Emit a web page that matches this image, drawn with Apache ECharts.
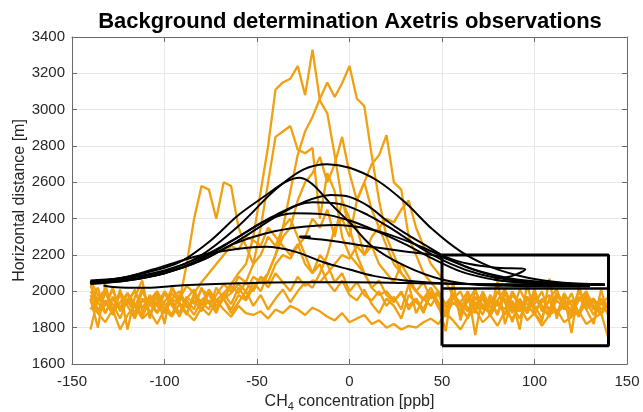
<!DOCTYPE html>
<html>
<head>
<meta charset="utf-8">
<script src="https://cdn.jsdelivr.net/npm/echarts@6/dist/echarts.min.js"></script>
<style>html,body{margin:0;padding:0;background:#fff}#c{width:643px;height:412px}</style>
</head>
<body>
<div id="c"></div>
<script>
// CH4 concentration sample positions [ppb]
const xs = [-140,-136,-132,-128,-124,-120,-116,-112,-108,-104,-100,-96,-92,-88,-84,-80,-76,-72,-68,-64,-60,-56,-52,-48,-44,-40,-36,-32,-28,-24,-20,-16,-12,-8,-4,0,4,8,12,16,20,24,28,32,36,40,44,48,52,56,60,64,68,72,76,80,84,88,92,96,100,104,108,112,116,120,124,128,132,136,140];

// Observed horizontal distance [m] (orange)
const obs1 = [1790,1960,1920,2010,1900,1950,1880,2000,1930,1960,1900,1990,1940,1880,1970,1920,2010,1950,1990,2040,2100,2150,2300,2550,2800,3110,3150,3170,3240,3080,3330,3050,2980,2750,2500,2350,2200,2100,2020,1980,2000,1950,1990,1920,1960,1900,1980,1930,1870,1990,1920,1960,1880,2000,1910,1950,1870,1980,1930,1900,1990,1920,1860,1970,1940,1890,2000,1920,1950,1880,1930];
const obs2 = [2050,1880,1990,1930,1850,1960,1910,2020,1880,1940,1990,1920,1870,1960,2010,1900,1950,1880,1990,1930,2020,1960,2050,2000,2100,2200,2350,2550,2750,2880,2960,3060,3150,3070,3145,3240,3060,3020,2750,2500,2300,2200,2100,2050,2000,1960,2020,1940,1890,1990,1920,1850,1970,1910,1880,2000,1940,1830,1960,1900,2010,1890,1950,1870,1990,1920,1860,1980,1900,1940,1870];
const obs3 = [1980,1900,1950,1870,2000,1920,1850,1960,1930,1880,1990,1940,1860,1950,1900,2020,1930,1980,2040,2000,2080,2050,2150,2350,2600,2850,2880,2910,2780,2760,2790,2400,2650,2550,2300,2200,2150,2100,2020,2060,1980,1940,2000,1900,1960,1880,1990,1930,1780,2050,1840,2000,1760,1990,1870,2060,1820,1950,1790,2040,1880,1830,2070,1850,1980,1770,2030,1900,1820,2010,1860];
const obs4 = [1950,2020,1880,1960,1900,1990,1930,1870,1980,1920,1880,1960,2000,1930,1870,1950,1990,1900,1960,1880,1940,2000,1920,1980,1900,1960,2010,1940,2000,2050,2020,2100,2200,2350,2400,2300,2500,2600,2700,2750,2860,2600,2560,2300,2200,2100,2050,2000,1930,1980,1880,1950,2010,1900,1960,1870,1990,1930,1890,1970,1920,1850,1960,2010,1900,1950,1880,1990,1920,1870,1950];
const obs5 = [1960,1800,2040,1880,2010,1790,1970,2060,1850,1990,1820,2030,1940,2150,2400,2580,2560,2400,2600,2580,2350,2250,2150,2200,2300,2250,2350,2400,2300,2200,2100,2150,2050,2000,2060,1980,1950,2010,1930,1880,1960,1920,1850,1980,1940,1900,2000,1910,1860,1970,1930,1890,2000,1920,1960,1870,1990,1900,1950,1880,1970,1920,1860,1980,1930,1900,2000,1940,1870,1960,1910];
const obs6 = [2000,1940,1880,1970,1910,1990,1860,1950,1920,2000,1890,1960,1930,1870,1990,1940,1900,2020,1960,1990,2040,2000,2080,2050,2100,2200,2300,2350,2500,2600,2650,2740,2600,2700,2850,2650,2500,2600,2450,2350,2250,2150,2100,2050,2000,1950,1990,1920,1880,1960,2000,1900,1940,1870,1980,1920,1960,1880,2010,1930,1870,1960,1900,1990,1940,1880,1950,2000,1910,1960,1890];
const obs7 = [2030,1950,2000,1900,1980,1930,2010,1890,1960,1920,2000,1950,1880,1970,1930,2010,1980,1920,1960,2030,1990,2050,2000,2080,2020,2100,2050,2000,2080,2030,2060,2050,2100,2150,2200,2180,2250,2200,2300,2350,2400,2380,2450,2500,2350,2250,2150,2100,2050,1980,1940,2000,1900,1960,1880,1950,2010,1920,1890,1970,1930,2000,1880,1950,1910,1990,1870,1940,1960,1900,1930];
const obs8 = [1950,1880,1830,1900,1790,1870,1920,1850,1890,1820,1900,1860,1930,1880,1840,1910,1870,1950,1900,1860,1920,1880,1870,1890,1850,1900,1880,1920,1900,1870,1910,1890,1860,1840,1880,1830,1850,1870,1820,1840,1800,1820,1790,1810,1800,1830,1850,1820,1880,1840,1790,1860,1900,1830,1870,1810,1890,1850,1920,1840,1880,1810,1870,1900,1830,1860,1890,1820,1850,1880,1740];
const obs9 = [2060,1980,1920,2020,1890,1950,2000,1910,1970,1880,1940,2010,1960,2030,1990,2050,2100,2150,2200,2250,2230,2300,2280,2250,2350,2300,2250,2200,2260,2150,2100,2200,2150,2050,2100,2000,2050,1980,1950,2000,1920,1970,1900,2040,1880,1960,1920,1990,1870,1940,1900,1860,1970,1910,1940,1880,2000,1920,1850,1960,1900,1940,1980,1880,1920,1860,1970,1900,1950,1880,1920];
const obs10 = [1900,1960,2010,1880,1940,1990,1920,1860,1950,2000,1930,1870,1980,1910,1950,1890,2000,1940,1960,1900,1980,1950,2020,2080,2050,2150,2200,2180,2250,2300,2400,2350,2450,2300,2500,2400,2350,2200,2250,2150,2100,2050,2150,2080,2000,2050,1960,2000,1910,1980,1870,1950,1920,1990,1860,1940,1900,2000,1930,1880,1960,1910,1870,1990,1920,1950,1880,1960,1900,1930,1970];
const observed = [obs1, obs2, obs3, obs4, obs5, obs6, obs7, obs8, obs9, obs10];

// Fitted curves [x, y] (black)
const fit1 = [[-140,2060],[-120,2075],[-100,2110],[-80,2200],[-60,2360],[-40,2560],[-25,2670],[-12,2700],[0,2680],[15,2610],[30,2490],[45,2340],[60,2220],[75,2140],[90,2090],[105,2060],[120,2045],[135,2040]];
const fit2 = [[-140,2050],[-120,2080],[-100,2130],[-90,2170],[-75,2280],[-60,2420],[-45,2530],[-35,2600],[-27,2625],[-20,2590],[-10,2480],[0,2380],[12,2250],[30,2140],[50,2065],[70,2035],[90,2030],[110,2028],[130,2028]];
const fit3 = [[-140,2045],[-120,2060],[-100,2100],[-80,2170],[-60,2280],[-40,2410],[-25,2490],[-10,2530],[0,2520],[10,2470],[20,2390],[30,2320],[40,2260],[52,2190],[65,2150],[80,2130],[95,2120],[88,2085],[78,2065],[95,2050],[115,2040],[138,2035]];
const fit4 = [[-140,2055],[-120,2075],[-100,2115],[-80,2190],[-60,2300],[-40,2420],[-20,2490],[-5,2480],[10,2420],[25,2330],[40,2230],[55,2150],[70,2095],[85,2065],[100,2048],[120,2040],[138,2038]];
const fit5 = [[-140,2040],[-120,2060],[-100,2100],[-80,2180],[-60,2300],[-45,2390],[-30,2430],[-15,2425],[0,2390],[15,2330],[30,2260],[45,2180],[60,2110],[75,2070],[90,2050],[110,2040],[130,2036]];
const fit6 = [[-140,2050],[-120,2065],[-100,2100],[-80,2170],[-63,2260],[-45,2320],[-25,2355],[-8,2365],[10,2345],[25,2300],[40,2240],[55,2170],[70,2110],[85,2070],[100,2050],[120,2040],[138,2038]];
const fit7 = [[-140,2045],[-120,2080],[-100,2140],[-80,2200],[-60,2235],[-45,2245],[-30,2220],[-14,2160],[0,2120],[13,2085],[30,2060],[50,2045],[70,2040],[90,2038],[110,2035],[130,2035]];
const fit8 = [[-133,2032],[-128,2024],[-120,2020],[-110,2020],[-90,2033],[-60,2044],[-30,2050],[0,2050],[30,2046],[60,2040],[100,2037],[137,2035]];
const fit9 = [[-21,2302],[-27,2302],[-26,2296],[-15,2285],[-5,2272],[10,2248],[31,2218],[49,2190],[67,2120],[85,2075],[100,2055],[120,2042],[138,2038]];
const fits = [fit1, fit2, fit3, fit4, fit5, fit6, fit7, fit8, fit9];

// Background window
const boxX = [50, 140];
const boxY = [1700, 2200];
const boxMidY = 2015;

const xTicks = [-150, 150, 50];
const yTicks = [1600, 3400, 200];

const ORANGE = '#f0a010';
const TXT = '#262626';
const series = [];
observed.forEach(v => {
  series.push({type:'line', data: xs.map((x,i)=>[x, v[i]]), showSymbol:false, symbol:'none',
    lineStyle:{color:ORANGE, width:2.3}, silent:true, z:2});
});
fits.forEach(f => {
  series.push({type:'line', data: f, showSymbol:false, symbol:'none', smooth:0.35,
    lineStyle:{color:'#000', width:2}, silent:true, z:3});
});
series.push({type:'line', data:[[boxX[0],boxY[0]],[boxX[0],boxY[1]],[boxX[1],boxY[1]],[boxX[1],boxY[0]],[boxX[0],boxY[0]]],
  showSymbol:false, symbol:'none', lineStyle:{color:'#000', width:3}, silent:true, z:4});
series.push({type:'line', data:[[boxX[0],boxMidY],[boxX[1],boxMidY]],
  showSymbol:false, symbol:'none', lineStyle:{color:'#000', width:2.5}, silent:true, z:4});

const axisBase = {
  axisLine:{show:true, onZero:false, lineStyle:{color:'#6a6a6a', width:1}},
  axisTick:{show:true, inside:true, length:5, lineStyle:{color:'#6a6a6a'}},
};
const chart = echarts.init(document.getElementById('c'), null, {renderer:'canvas'});
chart.setOption({
  animation:false,
  backgroundColor:'#fff',
  title:{text:'Background determination Axetris observations', left:345, top:6, textAlign:'center',
    textStyle:{fontFamily:'Liberation Sans', fontWeight:'bold', fontSize:22, color:'#000'}},
  grid:{left:72, right:16, top:37, bottom:48, containLabel:false, outerBoundsMode:'none'},
  xAxis:[
    Object.assign({type:'value', min:xTicks[0], max:xTicks[1], interval:xTicks[2], position:'bottom',
      name:'{a|CH}{s|4}{a| concentration [ppb]}', nameLocation:'middle', nameGap:26,
      nameTextStyle:{rich:{a:{fontFamily:'Liberation Sans', fontSize:16, color:TXT},
        s:{fontFamily:'Liberation Sans', fontSize:11, color:TXT, verticalAlign:'bottom', padding:[10,0,0,0]}}},
      axisLabel:{fontFamily:'Liberation Sans', fontSize:15, color:TXT, margin:10, formatter:v=>String(v)},
      splitLine:{show:true, lineStyle:{color:'#e8e8e8', width:1}}}, axisBase),
    Object.assign({type:'value', min:xTicks[0], max:xTicks[1], interval:xTicks[2], position:'top',
      axisLabel:{show:false}, splitLine:{show:false}}, axisBase)
  ],
  yAxis:[
    Object.assign({type:'value', min:yTicks[0], max:yTicks[1], interval:yTicks[2], position:'left',
      name:'Horizontal distance [m]', nameLocation:'middle', nameGap:44, nameMoveOverlap:false,
      nameTextStyle:{fontFamily:'Liberation Sans', fontSize:16, color:TXT},
      axisLabel:{fontFamily:'Liberation Sans', fontSize:15, color:TXT, margin:7, formatter:v=>String(v)},
      splitLine:{show:true, lineStyle:{color:'#e8e8e8', width:1}}}, axisBase),
    Object.assign({type:'value', min:yTicks[0], max:yTicks[1], interval:yTicks[2], position:'right',
      axisLabel:{show:false}, splitLine:{show:false}}, axisBase)
  ],
  series: series
});
</script>
</body>
</html>
